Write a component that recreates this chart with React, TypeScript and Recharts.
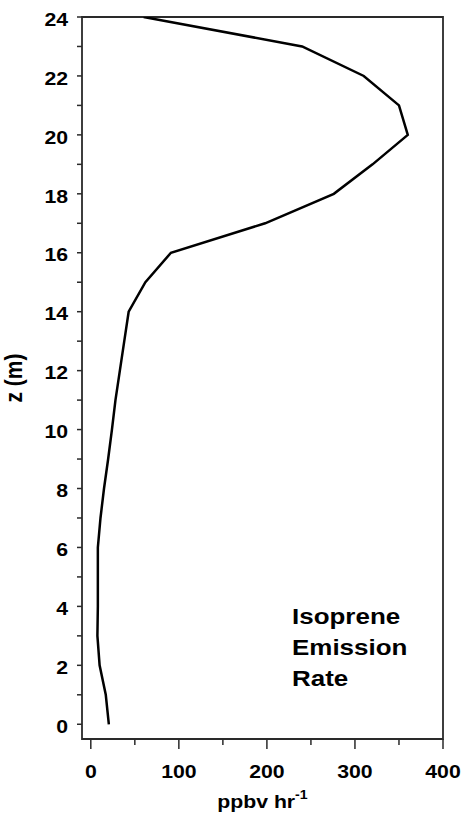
import React from "react";
import { ScatterChart, Scatter, XAxis, YAxis, Label, ReferenceArea } from "recharts";

// height above ground (m) and isoprene emission rate (ppbv hr-1)
const heights = [0, 1, 2, 3, 4, 5, 6, 7, 8, 9, 10, 11, 12, 13, 14, 15, 16, 17, 18, 19, 20, 21, 22, 23, 24];
const emissionRates = [20.5, 17, 10, 7.5, 8, 8, 8, 11, 15, 19.7, 24, 28, 33, 38, 43, 62, 91, 198, 276, 320, 360, 350, 310, 240, 60];

const rateTicks = [0, 50, 100, 150, 200, 250, 300, 350, 400];
const heightTicks = Array.from({ length: 25 }, (_, i) => i);

const FONT = "'Liberation Sans', Arial, Helvetica, sans-serif";
const AXIS = "#2a2a2a";
const WIDE = 1.18; // the original lettering is a bit wider than Arial

const data = heights.map((z, i) => ({ z, rate: emissionRates[i] }));

const BottomTick = (props: any) => {
  const { x, y, payload } = props;
  const major = payload.value % 100 === 0;
  return (
    <g>
      <line x1={x} x2={x} y1={y} y2={y + (major ? 10 : 6)} stroke={AXIS} strokeWidth={1.5} />
      {major && (
        <text
          transform={`translate(${x}, ${y + 39}) scale(${WIDE}, 1)`}
          textAnchor="middle"
          fontFamily={FONT}
          fontWeight="bold"
          fontSize={18}
          fill="#000"
        >
          {payload.value}
        </text>
      )}
    </g>
  );
};

const TopTick = (props: any) => {
  const { x, y, payload } = props;
  const major = payload.value % 100 === 0;
  return <line x1={x} x2={x} y1={y} y2={y + (major ? 11 : 7)} stroke={AXIS} strokeWidth={1.5} />;
};

const LeftTick = (props: any) => {
  const { x, y, payload } = props;
  const major = payload.value % 2 === 0;
  return (
    <g>
      <line x1={x - 5} x2={x} y1={y} y2={y} stroke={AXIS} strokeWidth={1.5} />
      {major && (
        <text
          transform={`translate(${x - 14}, ${y + 8.7}) scale(${WIDE}, 1)`}
          textAnchor="end"
          fontFamily={FONT}
          fontWeight="bold"
          fontSize={18}
          fill="#000"
        >
          {payload.value}
        </text>
      )}
    </g>
  );
};

const RightTick = (props: any) => {
  const { x, y } = props;
  return <line x1={x - 4} x2={x} y1={y} y2={y} stroke={AXIS} strokeWidth={1.5} />;
};

const XTitle = (props: any) => {
  const { viewBox } = props;
  const cx = viewBox.x + viewBox.width / 2;
  return (
    <text
      transform={`translate(${cx}, 808) scale(${WIDE}, 1)`}
      textAnchor="middle"
      fontFamily={FONT}
      fontWeight="bold"
      fontSize={18}
      fill="#000"
    >
      <tspan>ppbv hr</tspan>
      <tspan dy={-9} fontSize={12}>-1</tspan>
    </text>
  );
};

const YTitle = (props: any) => {
  const { viewBox } = props;
  const cy = viewBox.y + viewBox.height / 2;
  return (
    <text
      transform={`translate(22, ${cy}) scale(${WIDE}, 1) rotate(-90)`}
      textAnchor="middle"
      fontFamily={FONT}
      fontWeight="bold"
      fontSize={21}
      fill="#000"
    >
      z (m)
    </text>
  );
};

export default function App() {
  return (
    <div style={{ position: "absolute", left: 0, top: 0, width: 462, height: 816, background: "#fff" }}>
      <ScatterChart width={462} height={816} margin={{ top: 17, right: 19, bottom: 0, left: 0 }}>
        <XAxis
          xAxisId="bottom"
          type="number"
          dataKey="rate"
          domain={[-10, 400]}
          ticks={rateTicks}
          interval={0}
          height={77}
          tickSize={0}
          tickMargin={0}
          tickLine={false}
          axisLine={false}
          tick={BottomTick}
          allowDataOverflow
        >
          <Label content={XTitle} />
        </XAxis>
        <XAxis
          xAxisId="top"
          orientation="top"
          type="number"
          domain={[-10, 400]}
          ticks={rateTicks}
          interval={0}
          height={0}
          tickSize={0}
          tickMargin={0}
          tickLine={false}
          axisLine={false}
          tick={TopTick}
          allowDataOverflow
        />
        <YAxis
          yAxisId="left"
          type="number"
          dataKey="z"
          domain={[-0.5, 24]}
          ticks={heightTicks}
          interval={0}
          width={82}
          tickSize={0}
          tickMargin={0}
          tickLine={false}
          axisLine={false}
          tick={LeftTick}
          allowDataOverflow
        >
          <Label content={YTitle} />
        </YAxis>
        <YAxis
          yAxisId="right"
          orientation="right"
          type="number"
          domain={[-0.5, 24]}
          ticks={heightTicks}
          interval={0}
          width={0}
          tickSize={0}
          tickMargin={0}
          tickLine={false}
          axisLine={false}
          tick={RightTick}
          allowDataOverflow
        />
        <ReferenceArea
          xAxisId="bottom"
          yAxisId="left"
          x1={-10}
          x2={400}
          y1={-0.5}
          y2={24}
          fill="none"
          fillOpacity={0}
          stroke={AXIS}
          strokeWidth={1.8}
          strokeOpacity={1}
          ifOverflow="visible"
        />
        <Scatter
          xAxisId="bottom"
          yAxisId="left"
          data={data}
          line={{ stroke: "#000", strokeWidth: 2.5 }}
          shape={() => <g />}
          isAnimationActive={false}
        />
      </ScatterChart>
      <div
        style={{
          position: "absolute",
          left: 292,
          top: 601,
          fontFamily: FONT,
          fontWeight: "bold",
          fontSize: 22,
          lineHeight: "31px",
          color: "#000",
          transform: `scaleX(${WIDE})`,
          transformOrigin: "0 0",
        }}
      >
        Isoprene
        <br />
        Emission
        <br />
        Rate
      </div>
    </div>
  );
}
